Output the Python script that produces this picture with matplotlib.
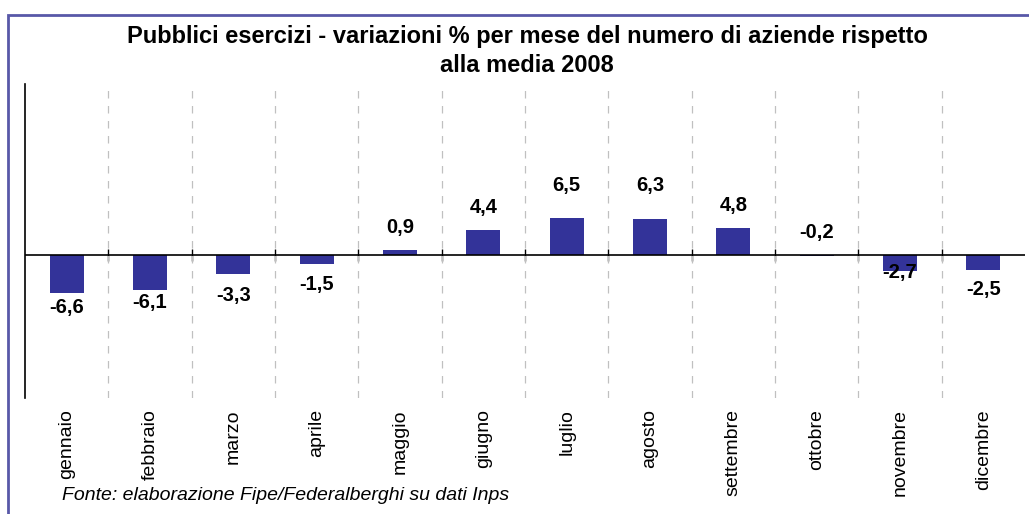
import numpy as np
import matplotlib
matplotlib.use("Agg")
import matplotlib.pyplot as plt
from matplotlib.patches import Rectangle

plt.rcParams['font.family'] = ['Liberation Sans', 'DejaVu Sans']

# Dati
mesi = ['gennaio', 'febbraio', 'marzo', 'aprile', 'maggio', 'giugno',
        'luglio', 'agosto', 'settembre', 'ottobre', 'novembre', 'dicembre']
variazioni = [-6.6, -6.1, -3.3, -1.5, 0.9, 4.4, 6.5, 6.3, 4.8, -0.2, -2.7, -2.5]
etichette = ['-6,6', '-6,1', '-3,3', '-1,5', '0,9', '4,4',
             '6,5', '6,3', '4,8', '-0,2', '-2,7', '-2,5']
# spostamento delle etichette rispetto alla fine della barra (pixel)
spost_etichette = [-15, -12, -21, -21, 23, 23, 33, 34, 22, 24, -2, -20]

x = np.arange(len(mesi))

fig = plt.figure(figsize=(10.29, 5.14), dpi=100)
ax = fig.add_axes([25 / 1029, 1 - 398 / 514, 1000 / 1029, 314 / 514])

ax.bar(x, variazioni, width=0.41, color='#333399', zorder=3)

ax.set_xlim(-0.5, len(mesi) - 0.5)
ax.set_ylim(-25, 30)

# griglia tratteggiata tra le categorie
for b in x[:-1] + 0.5:
    ax.axvline(b, color='#c0c0c0', linestyle=(0, (6, 6)), linewidth=0.9, zorder=1)

ax.axhline(0, color='black', linewidth=1.2, zorder=4)

# tacche sulla linea dello zero
sec = ax.secondary_xaxis(25 / 55)
sec.set_xticks(x[:-1] + 0.5)
sec.tick_params(direction='inout', length=8, width=1, color='black', labelbottom=False)
sec.spines['bottom'].set_visible(False)

for s in ['top', 'right', 'bottom']:
    ax.spines[s].set_visible(False)
ax.spines['left'].set_linewidth(1.2)
ax.set_yticks([])

ax.set_xticks(x)
ax.set_xticklabels(mesi, rotation=90, fontsize=14, va='top')
ax.tick_params(axis='x', length=0, pad=8)

for xi, v, lab, off in zip(x, variazioni, etichette, spost_etichette):
    ax.annotate(lab, (xi, v), xytext=(0, off), textcoords='offset pixels',
                ha='center', va='center', fontsize=14.5, fontweight='bold', zorder=5)

fig.text(527 / 1029, 1 - 36 / 514,
         'Pubblici esercizi - variazioni % per mese del numero di aziende rispetto',
         ha='center', va='center', fontsize=17, fontweight='bold')
fig.text(527 / 1029, 1 - 66 / 514, 'alla media 2008',
         ha='center', va='center', fontsize=17, fontweight='bold')

fig.text(62 / 1029, 1 - 496 / 514, 'Fonte: elaborazione Fipe/Federalberghi su dati Inps',
         ha='left', va='center', fontsize=14, style='italic')

# cornice
fig.patches.append(Rectangle((7.5 / 1029, -0.05), 1.1, 1 - 14.5 / 514 + 0.05,
                             transform=fig.transFigure, fill=False,
                             edgecolor='#5858a8', linewidth=2))

fig.savefig('out.png', dpi=100)
